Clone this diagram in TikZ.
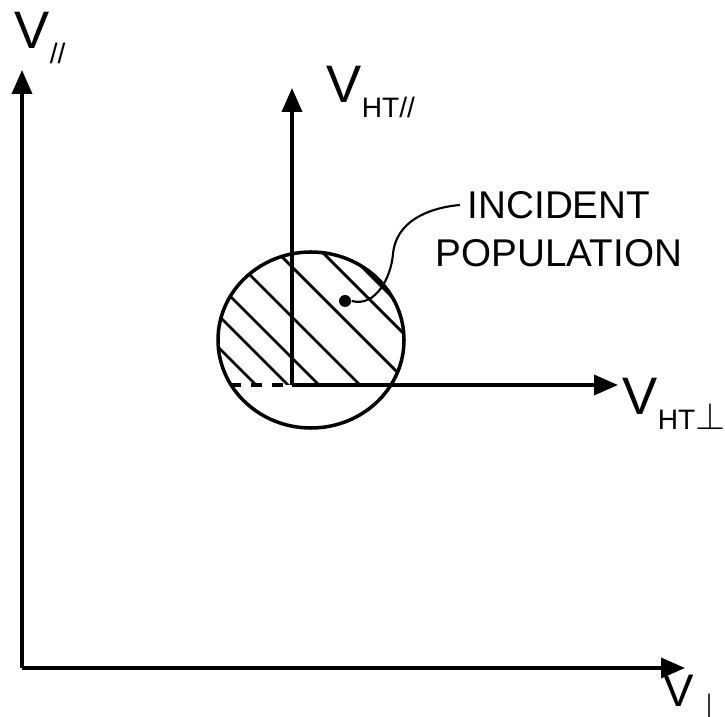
\documentclass[tikz,border=0pt]{standalone}
\usepackage{fontspec}
\setmainfont{Liberation Sans}
\usetikzlibrary{positioning, arrows.meta, shapes.geometric}

\newcommand{\vsub}[1]{\raisebox{-0.55ex}{\fontsize{8}{8}\selectfont #1}}
\newcommand{\vperpsym}{{\fontsize{11}{11}\selectfont$\perp$}}

\begin{document}
\begin{tikzpicture}[
    axis/.style={
        line width=1pt,
        -{Triangle[length=0.24cm, width=0.2cm]}
    },
    vlabel/.style={
        font=\fontsize{15}{18}\selectfont,
        inner sep=0pt
    },
    pop/.style={
        ellipse,
        draw,
        line width=1pt,
        minimum width=1.86cm,
        minimum height=1.76cm
    },
    hatch/.style={line width=0.8pt},
    dot/.style={circle, fill, inner sep=0pt, minimum size=0.12cm},
    note/.style={font=\fontsize{11}{14}\selectfont, inner sep=2pt},
    lead/.style={line width=0.6pt}
]

\useasboundingbox (0,0) rectangle (7.25,7.16);

% Main axes
\coordinate (O) at (0.22,0.48);
\coordinate (ytop) at (0.22,6.46);
\coordinate (xend) at (6.85,0.48);
\draw[axis] (O) -- (ytop);
\draw[axis] (O) -- (xend);
\node[vlabel, anchor=west] (vpar) at (0.14,6.78) {V\vsub{//}};
\node[vlabel, font=\fontsize{13}{15}\selectfont, anchor=south east] (vperp) at (7.25,-0.04) {V\vsub{\vperpsym}};

% Incident population
\node[pop] (popu) at (3.11,3.76) {};
\begin{scope}
    \clip (3.11,3.76) ellipse (0.93 and 0.88);
    \clip (1.5,3.31) rectangle (4.5,5.0);
    \foreach \k in {5.87, 6.19, 6.50, 6.91, 7.41, 7.86, 8.11}
        \draw[hatch] (1.8,\k-1.8) -- (4.4,\k-4.4);
\end{scope}

% HT frame axes
\coordinate (H) at (2.92,3.31);
\coordinate (htop) at (2.92,6.28);
\coordinate (hend) at (6.18,3.31);
\coordinate (hdash) at (2.30,3.31);
\draw[axis] (H) -- (htop);
\draw[axis] (H) -- (hend);
\draw[line width=1pt, dashed] (hdash) -- (H);
\node[vlabel, anchor=west] (vhtpar) at (3.26,6.24) {V\vsub{HT//}};
\node[vlabel, anchor=west] (vhtperp) at (6.22,3.12) {V\vsub{HT\vperpsym}};

% Label
\node[dot] (core) at (3.45,4.15) {};
\node[note] (incident) at (5.59,5.11) {INCIDENT};
\node[note, below=0.05cm of incident] (population) {POPULATION};
\draw[lead] (core.east) to[out=-15, in=-95] (3.93,4.62) to[out=85, in=185] (incident.west);

\end{tikzpicture}
\end{document}
